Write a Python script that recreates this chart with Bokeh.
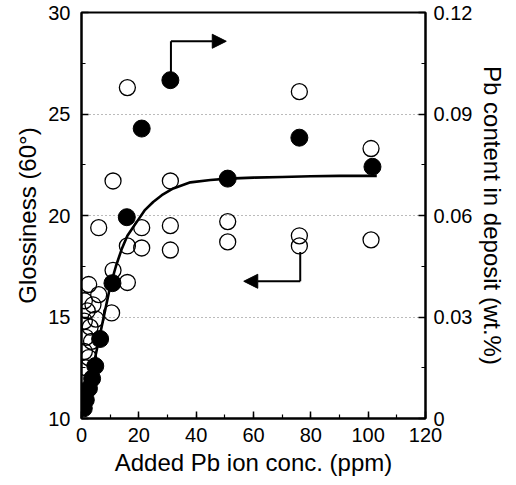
from bokeh.plotting import figure
from bokeh.models import (Range1d, LinearAxis, SingleIntervalTicker, FixedTicker,
                          Arrow, NormalHead)
from bokeh.embed import file_html
from bokeh.resources import INLINE

# Glossiness (left axis) - open circles
gloss_x = [16, 76, 11, 31, 101, 101, 6, 21, 31, 51, 51, 76, 76, 16, 21, 31, 11, 16,
           2.5, 6, 10.5, 1, 2, 4, 1, 3, 5, 1.5, 3.5, 1, 2.5, 1.5]
gloss_y = [26.3, 26.1, 21.7, 21.7, 23.3, 18.8, 19.4, 19.4, 19.5, 19.7, 18.7, 19.0, 18.5,
           18.5, 18.4, 18.3, 17.3, 16.7, 16.6, 16.1, 15.2, 15.8, 15.3, 15.6, 14.8, 14.5,
           14.9, 14.0, 13.8, 13.3, 13.0, 12.5]

# Pb content (right axis) - filled circles
pb_x = [31, 21, 76, 101.5, 51, 15.8, 10.8, 6.5, 4.8, 3.7, 2.6, 1.5, 0.8]
pb_y = [0.100, 0.0857, 0.083, 0.0744, 0.0709, 0.0595, 0.040, 0.0235, 0.0155, 0.0118,
        0.0089, 0.0055, 0.003]

# Fitted curve (right axis)
curve_x = [0.5, 2, 4, 6, 8, 10, 12, 14, 16, 18, 20, 22, 25, 28, 32, 38, 45, 51, 60, 70, 80, 90, 103]
curve_y = [0.004, 0.008, 0.015, 0.023, 0.031, 0.039, 0.045, 0.050, 0.054, 0.0565, 0.059,
           0.0615, 0.064, 0.066, 0.068, 0.0698, 0.0705, 0.0709, 0.0712, 0.0714, 0.0716,
           0.0717, 0.0717]

right_ticks = [0, 0.03, 0.06, 0.09, 0.12]
right_minor = [0.015, 0.045, 0.075, 0.105]

FONT = "Liberation Sans"

p = figure(frame_width=344, frame_height=406, output_backend="svg", toolbar_location=None,
           x_range=Range1d(0, 120), y_range=Range1d(10, 30),
           min_border_left=81, min_border_top=12, min_border_bottom=62, min_border_right=78)
p.extra_y_ranges = {"pb": Range1d(0, 0.12)}

p.outline_line_color = "black"
p.outline_line_width = 2
p.background_fill_color = "white"
p.border_fill_color = "white"

p.xgrid.grid_line_color = None
p.ygrid.grid_line_color = "#777777"
p.ygrid.grid_line_dash = "1 3"
p.ygrid.grid_line_width = 1

p.xaxis.ticker = SingleIntervalTicker(interval=20, num_minor_ticks=2)
p.yaxis.ticker = SingleIntervalTicker(interval=5, num_minor_ticks=2)
p.ygrid.ticker = FixedTicker(ticks=[15, 20, 25])

p.xaxis.axis_label = "Added Pb ion conc. (ppm)"
p.yaxis.axis_label = "Glossiness (60°)"

right = LinearAxis(y_range_name="pb", axis_label="Pb content in deposit (wt.%)",
                   ticker=FixedTicker(ticks=right_ticks, minor_ticks=right_minor))
right.major_label_overrides = {0: "0", 0.03: "0.03", 0.06: "0.06", 0.09: "0.09", 0.12: "0.12"}
p.add_layout(right, "right")

for ax in [p.xaxis[0], p.yaxis[0], right]:
    ax.axis_line_width = 2
    ax.axis_line_color = "black"
    ax.major_tick_in = 7
    ax.major_tick_out = 0
    ax.minor_tick_in = 4
    ax.minor_tick_out = 0
    ax.major_tick_line_width = 1.5
    ax.minor_tick_line_width = 1.2
    ax.major_label_text_font = FONT
    ax.major_label_text_font_size = "20px"
    ax.major_label_text_color = "black"
    ax.axis_label_text_font = FONT
    ax.axis_label_text_font_size = "24px"
    ax.axis_label_text_font_style = "normal"
    ax.axis_label_text_color = "black"
    ax.axis_label_standoff = 4

p.xaxis[0].major_label_standoff = 9
p.yaxis[0].major_label_standoff = 11
right.major_label_standoff = 8

p.scatter(gloss_x, gloss_y, size=16, marker="circle", fill_color=None,
          line_color="black", line_width=1.3)
p.line(curve_x, curve_y, y_range_name="pb", line_color="black", line_width=2.6)
p.scatter(pb_x, pb_y, size=17, marker="circle", fill_color="black",
          line_color="black", y_range_name="pb")

# Bracket arrows
p.add_layout(Arrow(end=None, x_start=31.2, y_start=0.102, x_end=31.2, y_end=0.1115,
                   y_range_name="pb", line_width=2))
p.add_layout(Arrow(end=NormalHead(size=14, fill_color="black", line_color="black"),
                   x_start=31.2, y_start=0.1115, x_end=50.5, y_end=0.1115,
                   y_range_name="pb", line_width=2))
p.add_layout(Arrow(end=None, x_start=76.3, y_start=18.2, x_end=76.3, y_end=16.76,
                   line_width=2))
p.add_layout(Arrow(end=NormalHead(size=14, fill_color="black", line_color="black"),
                   x_start=76.3, y_start=16.76, x_end=56.6, y_end=16.76, line_width=2))

open("out.html", "w").write(file_html(p, INLINE))
